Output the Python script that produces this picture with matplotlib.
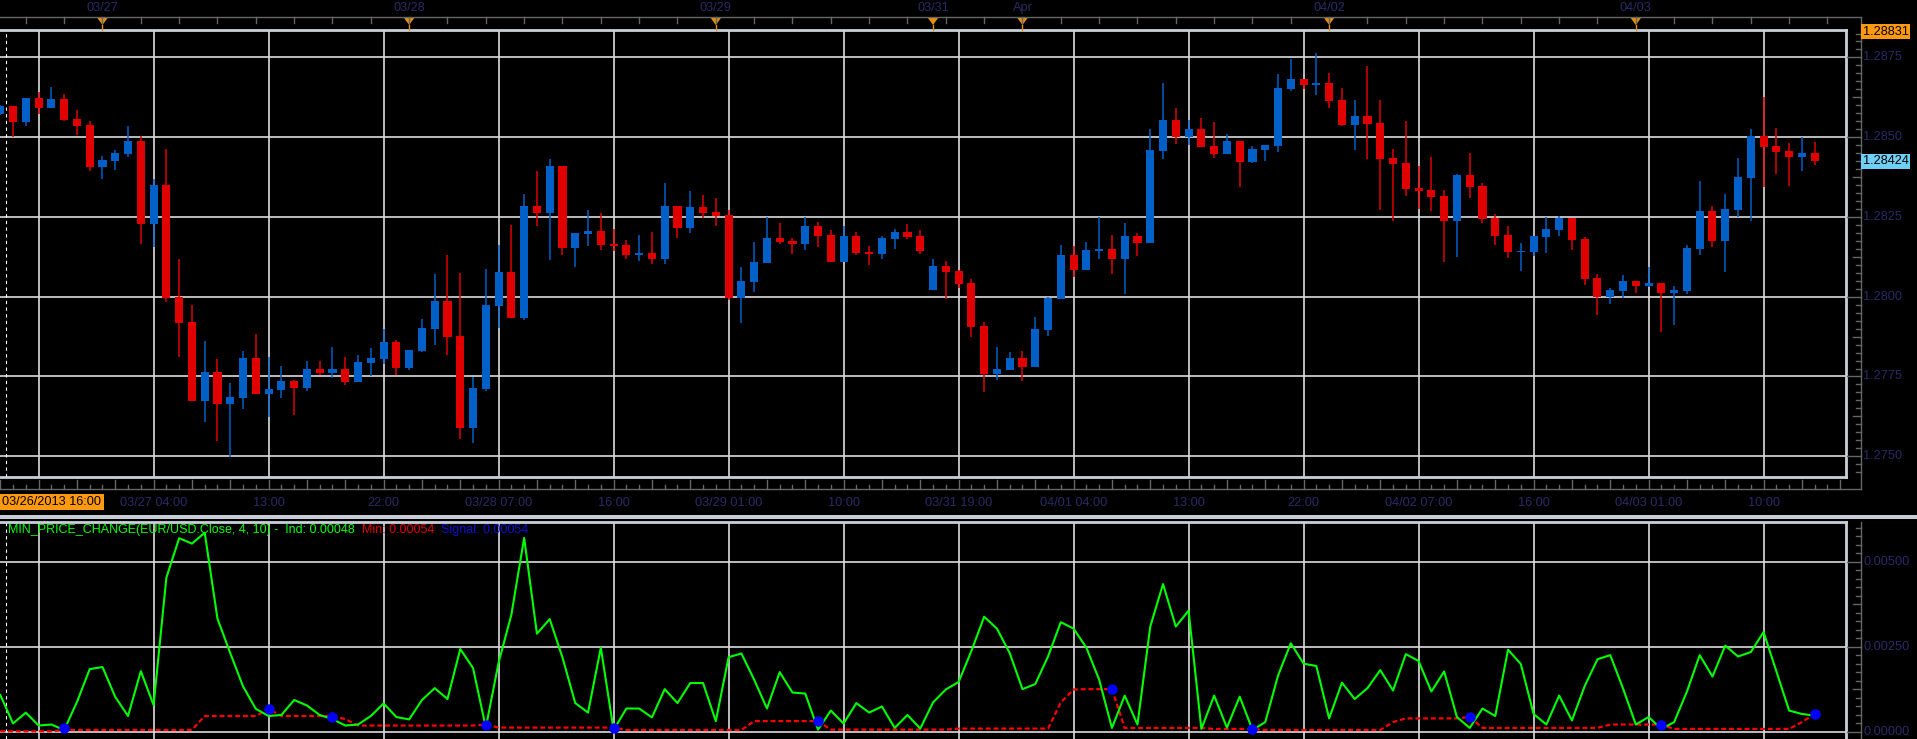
import matplotlib
matplotlib.use('Agg')
import matplotlib.pyplot as plt
import matplotlib.transforms as mtransforms
from matplotlib.lines import Line2D
from matplotlib.patches import Rectangle, Polygon
import numpy as np

plt.rcParams['font.family'] = ['Liberation Sans', 'DejaVu Sans']

# hourly EUR/USD candles, 03/26 16:00 .. 04/03 14:00 (weekend hours skipped)
opens = [1.28573, 1.28598, 1.28548, 1.28623, 1.28592, 1.28620, 1.28557, 1.28538, 1.28407, 1.28426,
         1.28447, 1.28488, 1.28228, 1.28350, 1.27999, 1.27921, 1.27674, 1.27764, 1.27664, 1.27683,
         1.27808, 1.27696, 1.27708, 1.27736, 1.27714, 1.27774, 1.27761, 1.27774, 1.27733, 1.27793,
         1.27805, 1.27858, 1.27777, 1.27830, 1.27899, 1.27987, 1.27877, 1.27589, 1.27711, 1.27971,
         1.28078, 1.27934, 1.28285, 1.28263, 1.28410, 1.28153, 1.28197, 1.28206, 1.28166, 1.28162,
         1.28131, 1.28137, 1.28119, 1.28285, 1.28216, 1.28281, 1.28266, 1.28256, 1.27996, 1.28046,
         1.28106, 1.28184, 1.28175, 1.28166, 1.28222, 1.28194, 1.28109, 1.28191, 1.28140, 1.28134,
         1.28181, 1.28203, 1.28191, 1.28021, 1.28097, 1.28081, 1.28043, 1.27909, 1.27758, 1.27771,
         1.27808, 1.27780, 1.27896, 1.27993, 1.28131, 1.28084, 1.28144, 1.28150, 1.28119, 1.28191,
         1.28169, 1.28457, 1.28554, 1.28501, 1.28526, 1.28473, 1.28447, 1.28488, 1.28422, 1.28460,
         1.28473, 1.28651, 1.28683, 1.28664, 1.28670, 1.28617, 1.28538, 1.28567, 1.28545, 1.28435,
         1.28419, 1.28341, 1.28335, 1.28316, 1.28238, 1.28382, 1.28347, 1.28247, 1.28194, 1.28140,
         1.28140, 1.28187, 1.28209, 1.28247, 1.28181, 1.28059, 1.27999, 1.28018, 1.28050, 1.28034,
         1.28043, 1.28012, 1.28018, 1.28150, 1.28269, 1.28175, 1.28272, 1.28372, 1.28504, 1.28473,
         1.28457, 1.28438, 1.28451]
highs = [1.28600, 1.28598, 1.28623, 1.28642, 1.28657, 1.28636, 1.28585, 1.28551, 1.28441, 1.28460,
         1.28535, 1.28504, 1.28369, 1.28463, 1.28119, 1.27974, 1.27862, 1.27805, 1.27730, 1.27830,
         1.27884, 1.27811, 1.27783, 1.27739, 1.27799, 1.27799, 1.27843, 1.27811, 1.27818, 1.27840,
         1.27899, 1.27865, 1.27833, 1.27931, 1.28072, 1.28131, 1.28075, 1.27749, 1.28087, 1.28162,
         1.28225, 1.28322, 1.28394, 1.28432, 1.28410, 1.28200, 1.28272, 1.28263, 1.28213, 1.28178,
         1.28194, 1.28203, 1.28357, 1.28285, 1.28332, 1.28319, 1.28310, 1.28272, 1.28093, 1.28172,
         1.28250, 1.28231, 1.28184, 1.28250, 1.28234, 1.28209, 1.28222, 1.28203, 1.28159, 1.28191,
         1.28213, 1.28228, 1.28209, 1.28119, 1.28112, 1.28084, 1.28056, 1.27921, 1.27843, 1.27827,
         1.27830, 1.27937, 1.27999, 1.28162, 1.28159, 1.28172, 1.28250, 1.28194, 1.28231, 1.28200,
         1.28526, 1.28670, 1.28592, 1.28554, 1.28560, 1.28548, 1.28510, 1.28488, 1.28473, 1.28476,
         1.28698, 1.28745, 1.28683, 1.28764, 1.28701, 1.28654, 1.28617, 1.28723, 1.28617, 1.28463,
         1.28551, 1.28410, 1.28438, 1.28335, 1.28385, 1.28451, 1.28357, 1.28259, 1.28222, 1.28169,
         1.28191, 1.28250, 1.28253, 1.28247, 1.28187, 1.28072, 1.28028, 1.28068, 1.28050, 1.28093,
         1.28043, 1.28034, 1.28162, 1.28363, 1.28285, 1.28322, 1.28435, 1.28526, 1.28626, 1.28529,
         1.28482, 1.28501, 1.28485]
lows = [1.28570, 1.28500, 1.28535, 1.28573, 1.28592, 1.28551, 1.28507, 1.28394, 1.28369, 1.28397,
        1.28438, 1.28166, 1.28156, 1.27985, 1.27811, 1.27674, 1.27608, 1.27548, 1.27498, 1.27649,
        1.27696, 1.27624, 1.27683, 1.27630, 1.27705, 1.27755, 1.27746, 1.27724, 1.27733, 1.27752,
        1.27790, 1.27755, 1.27771, 1.27827, 1.27849, 1.27818, 1.27555, 1.27542, 1.27705, 1.27902,
        1.27934, 1.27928, 1.28222, 1.28115, 1.28131, 1.28093, 1.28159, 1.28147, 1.28144, 1.28119,
        1.28112, 1.28103, 1.28103, 1.28184, 1.28200, 1.28247, 1.28222, 1.27990, 1.27918, 1.28015,
        1.28106, 1.28166, 1.28134, 1.28147, 1.28156, 1.28109, 1.28109, 1.28131, 1.28100, 1.28119,
        1.28150, 1.28181, 1.28134, 1.28021, 1.27993, 1.28028, 1.27874, 1.27702, 1.27739, 1.27771,
        1.27736, 1.27780, 1.27877, 1.27993, 1.28062, 1.28084, 1.28119, 1.28072, 1.28009, 1.28128,
        1.28169, 1.28432, 1.28479, 1.28476, 1.28469, 1.28435, 1.28447, 1.28344, 1.28419, 1.28426,
        1.28454, 1.28645, 1.28651, 1.28632, 1.28592, 1.28535, 1.28460, 1.28432, 1.28272, 1.28238,
        1.28316, 1.28275, 1.28269, 1.28109, 1.28125, 1.28310, 1.28231, 1.28162, 1.28122, 1.28081,
        1.28128, 1.28137, 1.28191, 1.28147, 1.28037, 1.27943, 1.27978, 1.27996, 1.28012, 1.28031,
        1.27890, 1.27912, 1.28009, 1.28131, 1.28156, 1.28078, 1.28250, 1.28238, 1.28344, 1.28385,
        1.28347, 1.28394, 1.28413]
closes = [1.28598, 1.28548, 1.28623, 1.28592, 1.28620, 1.28554, 1.28535, 1.28407, 1.28429, 1.28451,
          1.28488, 1.28228, 1.28350, 1.27997, 1.27918, 1.27674, 1.27764, 1.27664, 1.27686, 1.27808,
          1.27696, 1.27711, 1.27736, 1.27714, 1.27774, 1.27761, 1.27774, 1.27733, 1.27796, 1.27808,
          1.27858, 1.27777, 1.27833, 1.27902, 1.27987, 1.27874, 1.27589, 1.27714, 1.27974, 1.28078,
          1.27934, 1.28285, 1.28263, 1.28410, 1.28153, 1.28200, 1.28206, 1.28162, 1.28159, 1.28131,
          1.28137, 1.28119, 1.28285, 1.28216, 1.28281, 1.28263, 1.28253, 1.27996, 1.28050, 1.28109,
          1.28184, 1.28172, 1.28166, 1.28222, 1.28191, 1.28109, 1.28191, 1.28137, 1.28134, 1.28184,
          1.28203, 1.28187, 1.28144, 1.28097, 1.28078, 1.28040, 1.27906, 1.27758, 1.27774, 1.27808,
          1.27780, 1.27899, 1.27996, 1.28131, 1.28084, 1.28147, 1.28150, 1.28119, 1.28191, 1.28169,
          1.28460, 1.28554, 1.28501, 1.28526, 1.28469, 1.28447, 1.28488, 1.28422, 1.28463, 1.28476,
          1.28654, 1.28683, 1.28664, 1.28670, 1.28614, 1.28538, 1.28567, 1.28541, 1.28432, 1.28416,
          1.28338, 1.28332, 1.28313, 1.28238, 1.28382, 1.28344, 1.28244, 1.28191, 1.28140, 1.28144,
          1.28191, 1.28213, 1.28247, 1.28178, 1.28056, 1.27999, 1.28021, 1.28050, 1.28034, 1.28043,
          1.28012, 1.28021, 1.28153, 1.28269, 1.28175, 1.28275, 1.28375, 1.28504, 1.28469, 1.28454,
          1.28438, 1.28451, 1.28424]

# MIN_PRICE_CHANGE indicator panel
ind = [0.00109, 0.00025, 0.00057, 0.00019, 0.00022, 0.00006, 0.00088, 0.00185, 0.00191, 0.00103,
       0.00047, 0.00179, 0.00079, 0.00454, 0.00570, 0.00554, 0.00586, 0.00333, 0.00232, 0.00134,
       0.00068, 0.00047, 0.00050, 0.00094, 0.00078, 0.00050, 0.00038, 0.00019, 0.00022, 0.00047,
       0.00084, 0.00044, 0.00037, 0.00094, 0.00129, 0.00097, 0.00244, 0.00188, 0.00013, 0.00204,
       0.00345, 0.00571, 0.00289, 0.00332, 0.00219, 0.00085, 0.00057, 0.00248, 0.00006, 0.00069,
       0.00069, 0.00043, 0.00126, 0.00085, 0.00144, 0.00144, 0.00032, 0.00220, 0.00231, 0.00154,
       0.00069, 0.00176, 0.00116, 0.00113, 0.00007, 0.00063, 0.00025, 0.00085, 0.00057, 0.00075,
       0.00012, 0.00050, 0.00010, 0.00087, 0.00125, 0.00147, 0.00238, 0.00339, 0.00304, 0.00232,
       0.00126, 0.00141, 0.00222, 0.00323, 0.00304, 0.00248, 0.00154, 0.00012, 0.00107, 0.00022,
       0.00310, 0.00435, 0.00310, 0.00357, 0.00009, 0.00107, 0.00013, 0.00104, 0.00006, 0.00029,
       0.00166, 0.00261, 0.00201, 0.00194, 0.00040, 0.00145, 0.00097, 0.00129, 0.00182, 0.00122,
       0.00229, 0.00209, 0.00119, 0.00178, 0.00044, 0.00012, 0.00069, 0.00047, 0.00242, 0.00200,
       0.00053, 0.00022, 0.00107, 0.00034, 0.00135, 0.00214, 0.00226, 0.00128, 0.00022, 0.00044,
       0.00009, 0.00029, 0.00119, 0.00226, 0.00163, 0.00254, 0.00222, 0.00235, 0.00294, 0.00179,
       0.00063, 0.00053, 0.00048]
ind_min = [0.00002] * 5 + [0.00006] * 11 + [0.00047] * 5 + [0.00068] + [0.00047] * 5 + [0.00038] \
    + [0.00019] * 10 + [0.00022] + [0.00013] * 10 + [0.00006] * 10 + [0.00032] * 6 + [0.00007] * 10 \
    + [0.00010] * 8 + [0.00087, 0.00125] + [0.00126] * 3 + [0.00012] * 7 + [0.00009] * 4 \
    + [0.00006] * 10 + [0.00029] + [0.00040] * 5 + [0.00044] + [0.00012] * 10 + [0.00022] * 5 \
    + [0.00009] * 10 + [0.00029, 0.00054]
sig_bars = [5, 21, 26, 38, 48, 64, 87, 98, 115, 130, 142]
sig_vals = [0.00012, 0.00068, 0.00045, 0.00022, 0.00013, 0.00032, 0.00126, 0.00009, 0.00044, 0.00022, 0.00054]

# axis texts
grid_bars = list(range(3, 145, 9))
time_labels = ['03/27 04:00', '13:00', '22:00', '03/28 07:00', '16:00', '03/29 01:00', '10:00',
               '03/31 19:00', '04/01 04:00', '13:00', '22:00', '04/02 07:00', '16:00',
               '04/03 01:00', '10:00']
day_labels = ['03/27', '03/28', '03/29', '03/31', 'Apr', '04/02', '04/03']
day_bars = [8, 32, 56, 73, 80, 104, 128]
price_ticks = [1.2750, 1.2775, 1.2800, 1.2825, 1.2850, 1.2875]
ind_ticks = [0.0, 0.0025, 0.005]

W, H = 1917, 739
NAVY = '#2a2a66'
FRAME = '#c8d0d8'
AXC = '#666666'
ORANGE = '#ff9a10'


def fx(px):
    return px / W


def fy(py):
    return 1 - py / H


fig = plt.figure(figsize=(W / 100, H / 100), dpi=100, facecolor='black')
ax = fig.add_axes([0, fy(477), fx(1846), (477 - 30) / H], facecolor='black')
ax2 = fig.add_axes([0, 0, fx(1846), (739 - 522) / H], facecolor='black')

xlim = (-0.021, 144.45)
for a in (ax, ax2):
    a.set_xticks([])
    a.set_yticks([])
    a.spines['left'].set_visible(False)
    a.spines['right'].set_color(FRAME)
    a.spines['right'].set_linewidth(2)
    a.spines['top'].set_color(FRAME)
    a.spines['top'].set_linewidth(2)
ax.spines['bottom'].set_color(FRAME)
ax.spines['bottom'].set_linewidth(2)
ax.spines['top'].set_linestyle((0, (3, 1)))
ax2.spines['bottom'].set_visible(False)

# grid
for a, yt in ((ax, price_ticks), (ax2, ind_ticks)):
    a.vlines(grid_bars, -1, 2, color='#dcdcdc', lw=1.2, zorder=0)
    a.hlines(yt, -5, 150, color='#dcdcdc', lw=1.2, zorder=0)
    a.axvline(0.47, color='white', lw=0.8, ls=(0, (3, 3)), zorder=1)

# candles
x = np.arange(len(closes))
o, h, l, c = (np.array(v) for v in (opens, highs, lows, closes))
col = np.where(c >= o, '#0060c8', '#e00000')
ax.vlines(x, l, h, colors=col, lw=1.1, zorder=2)
ax.bar(x, np.maximum(np.abs(c - o), 0.00003), bottom=np.minimum(o, c), width=0.63,
       color=col, linewidth=0, zorder=3)
ax.set_xlim(*xlim)
ax.set_ylim(1.27435, 1.28836)

# indicator
ax2.plot(x, ind, color='#00ff00', lw=1.5, zorder=3)
ax2.plot(x, ind_min, color='#ff0000', lw=1.6, dashes=(2.2, 1.3), zorder=2)
ax2.plot(sig_bars, sig_vals, 'o', color='#0000ff', ms=6.5, zorder=4)
ax2.set_xlim(*xlim)
ax2.set_ylim(-0.000206, 0.006176)

t = ax2.text(fx(8), fy(536), 'MIN_PRICE_CHANGE(EUR/USD.Close, 4, 10) -  Ind: 0.00048',
             transform=fig.transFigure, color='#00ff00', fontsize=9, va='bottom')
t = ax2.annotate('  Min: 0.00054', xycoords=t, xy=(1, 0), va='bottom', color='#e00000', fontsize=9)
ax2.annotate('  Signal: 0.00054', xycoords=t, xy=(1, 0), va='bottom', color='#1010d0', fontsize=9)

# chrome: axis lines, ticks, labels
tx_top = mtransforms.blended_transform_factory(ax.transData, fig.transFigure)
ty_main = mtransforms.blended_transform_factory(fig.transFigure, ax.transData)
ty_ind = mtransforms.blended_transform_factory(fig.transFigure, ax2.transData)


def line(xs, ys, tr, color=AXC, lw=1.0):
    fig.add_artist(Line2D(xs, ys, transform=tr, color=color, lw=lw))


line([0, fx(1861)], [fy(17.3)] * 2, fig.transFigure)
line([0, fx(1861)], [fy(489)] * 2, fig.transFigure)
line([fx(1860.7)] * 2, [fy(17.3), fy(489)], fig.transFigure)
line([fx(1860.7)] * 2, [fy(522), 0], fig.transFigure)
fig.add_artist(Rectangle((0, fy(519)), 1, 4 / H, transform=fig.transFigure,
                         facecolor='#c5cdd6', edgecolor='none'))

# top day markers
for b in range(2, 145, 3):
    line([b, b], [fy(17.3), fy(23)], tx_top)
for b, lbl in zip(day_bars, day_labels):
    fig.add_artist(Polygon([(b - 0.4, fy(18)), (b + 0.4, fy(18)), (b, fy(25))], closed=True,
                           transform=tx_top, facecolor='#e8900c', edgecolor='none'))
    line([b, b], [fy(25), fy(30)], tx_top, color='#e8900c')
    fig.text(0, fy(8), lbl, transform=tx_top, color=NAVY, fontsize=9.2, ha='center', va='center')
    fig.texts[-1].set_x(b)

# bottom time axis
for b in range(0, 145):
    line([b, b], [fy(489), fy(489 - (9 if b % 3 == 0 else 4))], tx_top)
for b, lbl in zip(grid_bars[1:], time_labels):
    t = fig.text(0, fy(502.7), lbl, transform=tx_top, color=NAVY, fontsize=9.2,
                 ha='center', va='center')
    t.set_x(b)
fig.add_artist(Rectangle((0, fy(510)), fx(104), 16 / H, transform=fig.transFigure,
                         facecolor=ORANGE, edgecolor='none'))
fig.text(fx(52), fy(502.3), '03/26/2013 16:00', color='black', fontsize=9.2, ha='center', va='center')

# right price axis
for k in range(int(1.2740 / 0.00025), int(1.2885 / 0.00025) + 1):
    p = k * 0.00025
    if not (1.27435 < p < 1.28836):
        continue
    ln = 14 if k % 10 == 0 else (8 if k % 5 == 0 else 5)
    line([fx(1860.7 - ln), fx(1860.7)], [p, p], ty_main)
for p in price_ticks:
    fig.text(fx(1863), 0, '%.4f' % p, transform=ty_main, color=NAVY, fontsize=9.2,
             ha='left', va='center').set_y(p)
for val, fc in ((1.28831, ORANGE), (closes[-1], '#70cff5')):
    fig.text(fx(1863), 0, '%.5f' % val, transform=ty_main, color='black', fontsize=9.2,
             ha='left', va='center',
             bbox=dict(boxstyle='square,pad=0.12', facecolor=fc, edgecolor='none')).set_y(val)

# right indicator axis
for k in range(0, 25):
    v = k * 0.00025
    ln = 14 if k % 10 == 0 else (8 if k % 5 == 0 else 5)
    line([fx(1860.7 - ln), fx(1860.7)], [v, v], ty_ind)
for v in ind_ticks:
    fig.text(fx(1863), 0, '%.5f' % v, transform=ty_ind, color=NAVY, fontsize=9.2,
             ha='left', va='center').set_y(v)

fig.savefig('out.png', dpi=100, facecolor='black')
